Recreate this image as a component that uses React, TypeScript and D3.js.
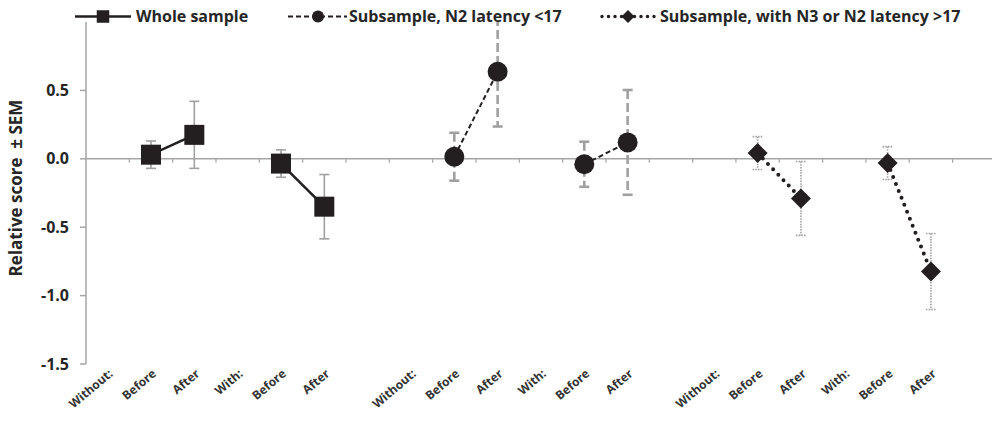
import React from "react";
import * as d3 from "d3";

// categories along the x axis (last slot is empty, clipped at the right edge)
const categories = [
  "Without:", "Before", "After", "With:", "Before", "After", "",
  "Without:", "Before", "After", "With:", "Before", "After", "",
  "Without:", "Before", "After", "With:", "Before", "After", "",
];

const yTicks = [0.5, 0.0, -0.5, -1.0, -1.5];

// Whole sample
const wholeIdx = [1, 2, 4, 5];
const wholeMean = [0.03, 0.175, -0.035, -0.35];
const wholeSem = [0.1, 0.245, 0.1, 0.235];

// Subsample, N2 latency <17
const n2Idx = [8, 9, 11, 12];
const n2Mean = [0.015, 0.636, -0.04, 0.12];
const n2Sem = [0.175, 0.4, 0.165, 0.383];

// Subsample, with N3 or N2 latency >17
const n3Idx = [15, 16, 18, 19];
const n3Mean = [0.042, -0.29, -0.031, -0.824];
const n3Sem = [0.12, 0.27, 0.12, 0.278];

const W = 992;
const H = 423;
const left = 86;
const top = 22;
const bottom = 364;
const ink = "#231f20";
const grey = "#a6a6a6";
const errGrey = "#a0a0a0";
const font = "'Open Sans', sans-serif";

const x = d3
  .scaleBand<string>()
  .domain(categories.map((_, i) => String(i)))
  .range([left, left + 21 * 43.33])
  .paddingInner(0)
  .paddingOuter(0);

const y = d3.scaleLinear().domain([-1.5, 1.0]).range([bottom, top]);

const cx = (i: number) => (x(String(i)) as number) + x.bandwidth() / 2;

type Series = {
  idx: number[];
  mean: number[];
  sem: number[];
  line: React.SVGProps<SVGPathElement>;
  err: React.SVGProps<SVGLineElement>;
  cap?: string;
  marker: "square" | "circle" | "diamond";
  size: number;
};

const series: Series[] = [
  {
    idx: wholeIdx,
    mean: wholeMean,
    sem: wholeSem,
    line: { strokeWidth: 2.5 },
    err: { strokeWidth: 1.6 },
    marker: "square",
    size: 20,
  },
  {
    idx: n2Idx,
    mean: n2Mean,
    sem: n2Sem,
    line: { strokeWidth: 2, strokeDasharray: "5,3" },
    err: { strokeWidth: 2.6, strokeDasharray: "9,4" },
    marker: "circle",
    size: 20,
  },
  {
    idx: n3Idx,
    mean: n3Mean,
    sem: n3Sem,
    line: { strokeWidth: 4, strokeDasharray: "0,7.5", strokeLinecap: "round" },
    err: { strokeWidth: 1.6, strokeDasharray: "1.5,1.2" },
    cap: "1.5,1.2",
    marker: "diamond",
    size: 20,
  },
];

const Marker = ({ type, px, py, s }: { type: string; px: number; py: number; s: number }) => {
  if (type === "square")
    return <rect x={px - s / 2} y={py - s / 2} width={s} height={s} fill={ink} />;
  if (type === "circle") return <circle cx={px} cy={py} r={s / 2} fill={ink} />;
  const h = s / 2;
  const pts: [number, number][] = [
    [px, py - h],
    [px + h, py],
    [px, py + h],
    [px - h, py],
  ];
  return <path d={(d3.line()(pts) as string) + "Z"} fill={ink} />;
};

const lineGen = d3
  .line<[number, number]>()
  .x((d) => d[0])
  .y((d) => d[1]);

export default function App() {
  const y0 = y(0);
  const bands = categories.map((_, i) => x(String(i)) as number);

  return (
    <svg
      width={W}
      height={H}
      style={{ position: "absolute", left: 0, top: 0, background: "#fff" }}
      fontFamily={font}
    >
      <defs>
        <clipPath id="plot">
          <rect x={left} y={top} width={W - left} height={bottom - top + 2} />
        </clipPath>
      </defs>

      {/* y axis */}
      <line x1={left} x2={left} y1={top} y2={bottom} stroke={grey} strokeWidth={1.5} />
      {yTicks.map((t) => (
        <g key={t}>
          <line x1={left - 6} x2={left} y1={y(t)} y2={y(t)} stroke={grey} strokeWidth={1.5} />
          <text
            x={69}
            y={y(t)}
            dy="0.35em"
            textAnchor="end"
            fontSize={16}
            fontWeight="bold"
            fill="#262626"
          >
            {t.toFixed(1).replace("-0.0", "0.0")}
          </text>
        </g>
      ))}
      <text
        transform={`translate(22,188) rotate(-90)`}
        textAnchor="middle"
        fontSize={17}
        fontWeight="bold"
        fill="#262626"
        style={{ whiteSpace: "pre" }}
      >
        {"Relative score  \u00b1 SEM"}
      </text>

      {/* x axis at 0 */}
      <line x1={left} x2={W} y1={y0} y2={y0} stroke={grey} strokeWidth={1.5} />
      {bands.slice(1).map((b, i) => (
        <line key={i} x1={b} x2={b} y1={y0} y2={y0 + 4} stroke={grey} strokeWidth={1.2} />
      ))}
      {categories.map((c, i) =>
        c ? (
          <text
            key={i}
            transform={`translate(${cx(i) + 6},${375}) rotate(-40)`}
            textAnchor="end"
            fontSize={12}
            fontWeight="bold"
            fill="#333"
          >
            {c}
          </text>
        ) : null
      )}

      {/* error bars */}
      <g clipPath="url(#plot)">
        {series.map((s, si) =>
          s.idx.map((ix, k) => {
            const px = cx(ix);
            const hi = s.mean[k] + s.sem[k];
            const lo = s.mean[k] - s.sem[k];
            return (
              <g key={`${si}-${k}`} stroke={errGrey}>
                <line x1={px} x2={px} y1={y(hi)} y2={y(lo)} {...s.err} />
                {hi <= 1.0 && (
                  <line x1={px - 5} x2={px + 5} y1={y(hi)} y2={y(hi)} {...s.err} strokeDasharray={s.cap} />
                )}
                <line x1={px - 5} x2={px + 5} y1={y(lo)} y2={y(lo)} {...s.err} strokeDasharray={s.cap} />
              </g>
            );
          })
        )}
      </g>

      {/* lines connecting before/after */}
      {series.map((s, si) =>
        [0, 2].map((k) => (
          <path
            key={`${si}-l${k}`}
            d={
              lineGen([
                [cx(s.idx[k]), y(s.mean[k])],
                [cx(s.idx[k + 1]), y(s.mean[k + 1])],
              ]) as string
            }
            fill="none"
            stroke={ink}
            {...s.line}
          />
        ))
      )}

      {/* markers */}
      {series.map((s, si) =>
        s.idx.map((ix, k) => (
          <Marker key={`${si}-m${k}`} type={s.marker} px={cx(ix)} py={y(s.mean[k])} s={s.size} />
        ))
      )}

      {/* legend */}
      <g>
        <line x1={75} x2={131} y1={16.5} y2={16.5} stroke={ink} strokeWidth={2.5} />
        <Marker type="square" px={103} py={16.5} s={12.5} />
        <text x={136} y={22} fontSize={16} fontWeight="bold" fill="#262626">
          Whole sample
        </text>

        <line x1={288} x2={347} y1={16.5} y2={16.5} stroke={ink} strokeWidth={2} strokeDasharray="5,3" />
        <Marker type="circle" px={318} py={16.5} s={12} />
        <text x={349} y={22} fontSize={16} fontWeight="bold" fill="#262626">
          Subsample, N2 latency &lt;17
        </text>

        <line x1={602} x2={656} y1={16.5} y2={16.5} stroke={ink} strokeWidth={3.5} strokeDasharray="0,6.5" strokeLinecap="round" />
        <Marker type="diamond" px={628} py={16.5} s={13} />
        <text x={660} y={22} fontSize={16} fontWeight="bold" fill="#262626">
          Subsample, with N3 or N2 latency &gt;17
        </text>
      </g>
    </svg>
  );
}
